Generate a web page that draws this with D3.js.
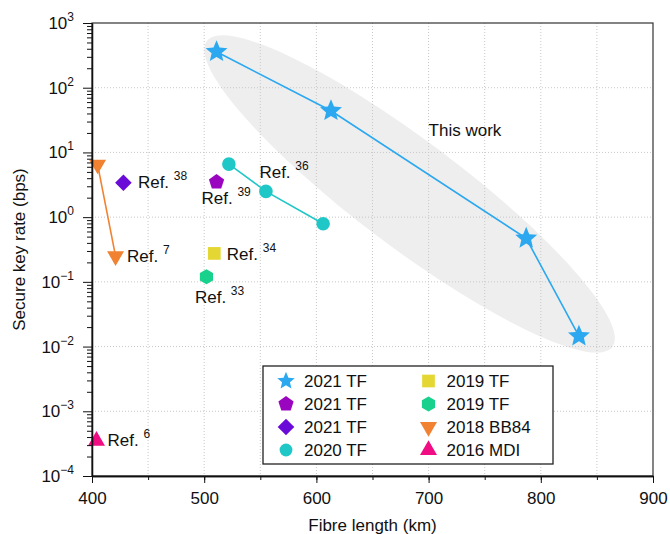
<!DOCTYPE html>
<html>
<head>
<meta charset="utf-8">
<script src="https://cdn.jsdelivr.net/npm/d3@7"></script>
<style>
  body { margin: 0; background: #fff; }
  svg { display: block; font-family: 'Liberation Sans', Arial, Helvetica, sans-serif; }
</style>
</head>
<body>
<div id="chart"></div>
<script>
// -------------------------------------------------------------------------
// Data

const xTicks = [400, 500, 600, 700, 800, 900];
const yTickExponents = [-4, -3, -2, -1, 0, 1, 2, 3];

const seriesNames = ['2021 TF', '2021 TF', '2021 TF', '2020 TF', '2019 TF', '2019 TF', '2018 BB84', '2016 MDI'];
const refNumbers = [null, '39', '38', '36', '34', '33', '7', '6'];

const thisWorkKm = [511, 613, 787, 834];
const thisWorkRate = [360, 44, 0.47, 0.0145];
const ref39Km = [511];
const ref39Rate = [3.5];
const ref38Km = [428];
const ref38Rate = [3.4];
const ref36Km = [522, 555, 606];
const ref36Rate = [6.6, 2.5, 0.79];
const ref34Km = [509];
const ref34Rate = [0.275];
const ref33Km = [502];
const ref33Rate = [0.12];
const ref7Km = [405, 421];
const ref7Rate = [6.5, 0.25];
const ref6Km = [404];
const ref6Rate = [0.00035];

// shaded "This work" region and its label, in data units
const regionCentre = [683, 2.28];
const thisWorkLabelAt = [700, 17.7];

// -------------------------------------------------------------------------
// Styles

const kms = [thisWorkKm, ref39Km, ref38Km, ref36Km, ref34Km, ref33Km, ref7Km, ref6Km];
const rates = [thisWorkRate, ref39Rate, ref38Rate, ref36Rate, ref34Rate, ref33Rate, ref7Rate, ref6Rate];
const shapes = ['star', 'pentagon', 'diamond', 'circle', 'square', 'hexagon', 'triDown', 'triUp'];
const colors = ['#2ba8f0', '#9a06c0', '#6a0bd8', '#1fc7c7', '#e5d733', '#17d18c', '#f08232', '#f00c82'];
const joined = [true, false, false, true, false, false, true, false];
// label offset from the anchor point (px), and which point carries the label
const labelOffsets = [null, [-15, 22], [14.5, 5.5], [-6.5, -13], [12.5, 6.5], [-11.5, 26], [11.5, 5.5], [11, 5.5]];
const labelAnchor = [0, 0, 0, 1, 0, 0, 1, 0];

const series = seriesNames.map((name, i) => ({
  name: name,
  ref: refNumbers[i],
  points: kms[i].map((km, j) => ({ km: km, rate: rates[i][j] })),
  shape: shapes[i],
  color: colors[i],
  joined: joined[i],
  offset: labelOffsets[i],
  anchor: labelAnchor[i]
}));

// -------------------------------------------------------------------------
// Layout

const width = 670;
const height = 534;
const margin = { left: 92, right: 17, top: 23, bottom: 58 };
const fontSize = 17;
const supSize = 12;

let svg = d3.select('#chart')
  .append('svg')
  .attr('width', width)
  .attr('height', height);

let x = d3.scaleLinear()
  .domain([400, 900])
  .range([margin.left, width - margin.right]);

let y = d3.scaleLog()
  .domain([1e-4, 1e3])
  .range([height - margin.bottom, margin.top]);

// marker outline, centred on 0,0
function shapePath(type, r) {
  let poly = function(n, start, radii) {
    let pts = [];
    for (let i = 0; i < n; i++) {
      let a = (start + i * 360 / n) * Math.PI / 180;
      let rr = radii ? radii[i % radii.length] : r;
      pts.push([rr * Math.cos(a), rr * Math.sin(a)]);
    }
    return 'M' + pts.map(p => p[0].toFixed(2) + ',' + p[1].toFixed(2)).join('L') + 'Z';
  };
  switch (type) {
    case 'star': return poly(10, -90, [r, r * 0.45]);
    case 'pentagon': return poly(5, -90);
    case 'hexagon': return poly(6, -90);
    case 'diamond': return poly(4, -90);
    case 'square': return poly(4, 45);
    case 'triDown': return poly(3, 90);
    case 'triUp': return poly(3, -90);
    default: return d3.symbol(d3.symbolCircle, Math.PI * r * r)();
  }
}

const markerRadius = { star: 11.5, pentagon: 8, diamond: 8.3, circle: 6.8, square: 9, hexagon: 7.6, triDown: 9.8, triUp: 9.8 };
const legendRadius = Object.assign({}, markerRadius, { star: 9.2, circle: 6.4 });

// -------------------------------------------------------------------------
// Shaded region

svg.append('ellipse')
  .attr('transform', `translate(${x(regionCentre[0])},${y(regionCentre[1])}) rotate(37)`)
  .attr('rx', 254)
  .attr('ry', 53)
  .attr('fill', '#eeeeee');

// -------------------------------------------------------------------------
// Grid

let gridX = d3.range(450, 900, 50);
svg.append('g')
  .selectAll('line')
  .data(gridX)
  .enter()
  .append('line')
  .attr('x1', d => x(d)).attr('x2', d => x(d))
  .attr('y1', margin.top).attr('y2', height - margin.bottom)
  .attr('stroke', '#c8c8c8')
  .attr('stroke-dasharray', '1,2');

svg.append('g')
  .selectAll('line')
  .data(yTickExponents.slice(1, -1))
  .enter()
  .append('line')
  .attr('x1', margin.left).attr('x2', width - margin.right)
  .attr('y1', d => y(Math.pow(10, d))).attr('y2', d => y(Math.pow(10, d)))
  .attr('stroke', '#c8c8c8')
  .attr('stroke-dasharray', '1,2');

// -------------------------------------------------------------------------
// Series

let line = d3.line()
  .x(d => x(d.km))
  .y(d => y(d.rate));

svg.append('g')
  .selectAll('path')
  .data(series.filter(s => s.joined))
  .enter()
  .append('path')
  .attr('d', s => line(s.points))
  .attr('fill', 'none')
  .attr('stroke', s => s.color)
  .attr('stroke-width', 1.6);

series.forEach(s => {
  svg.append('g')
    .selectAll('path')
    .data(s.points)
    .enter()
    .append('path')
    .attr('transform', d => `translate(${x(d.km)},${y(d.rate)})`)
    .attr('d', shapePath(s.shape, markerRadius[s.shape]))
    .attr('fill', s.color);
});

// reference labels
series.filter(s => s.ref).forEach(s => {
  let p = s.points[s.anchor];
  let t = svg.append('text')
    .attr('x', x(p.km) + s.offset[0])
    .attr('y', y(p.rate) + s.offset[1])
    .attr('font-size', fontSize)
    .attr('fill', '#111');
  t.append('tspan').text('Ref.\u00a0');
  t.append('tspan')
    .attr('dy', -8)
    .attr('font-size', supSize)
    .text(s.ref);
});

svg.append('text')
  .attr('x', x(thisWorkLabelAt[0]))
  .attr('y', y(thisWorkLabelAt[1]))
  .attr('font-size', fontSize)
  .attr('fill', '#111')
  .text('This work');

// -------------------------------------------------------------------------
// Axes

svg.append('rect')
  .attr('x', margin.left)
  .attr('y', margin.top)
  .attr('width', width - margin.right - margin.left)
  .attr('height', height - margin.bottom - margin.top)
  .attr('fill', 'none')
  .attr('stroke', '#333')
  .attr('stroke-width', 1.2);

let minorY = [];
yTickExponents.slice(0, -1).forEach(e => {
  for (let m = 2; m < 10; m++) minorY.push(m * Math.pow(10, e));
});

let yAxis = svg.append('g')
  .attr('transform', `translate(${margin.left},0)`)
  .call(d3.axisLeft(y)
    .tickValues(yTickExponents.map(e => Math.pow(10, e)))
    .tickSize(9)
    .tickSizeOuter(0)
    .tickPadding(9)
    .tickFormat(''));
yAxis.selectAll('.tick text').each(function(d) {
  let t = d3.select(this);
  let e = Math.round(Math.log10(d));
  t.append('tspan').text('10');
  t.append('tspan')
    .attr('dy', -8)
    .attr('font-size', supSize)
    .text(String(e).replace('-', '\u2212'));
});

svg.append('g')
  .attr('transform', `translate(${margin.left},0)`)
  .call(d3.axisLeft(y)
    .tickValues(minorY)
    .tickSize(5)
    .tickSizeOuter(0)
    .tickFormat(''));

let xAxis = svg.append('g')
  .attr('transform', `translate(0,${height - margin.bottom})`)
  .call(d3.axisBottom(x)
    .tickValues(xTicks)
    .tickSize(7)
    .tickSizeOuter(0)
    .tickPadding(9)
    .tickFormat(d3.format('d')));

svg.append('g')
  .attr('transform', `translate(0,${height - margin.bottom})`)
  .call(d3.axisBottom(x)
    .tickValues(gridX)
    .tickSize(4)
    .tickSizeOuter(0)
    .tickFormat(''));

svg.selectAll('.domain').attr('stroke', '#111').attr('stroke-width', 1.3);
svg.selectAll('.tick line').attr('stroke', '#111');
svg.selectAll('.tick text')
  .attr('font-size', fontSize)
  .attr('font-family', "'Liberation Sans', Arial, sans-serif")
  .attr('fill', '#111');

svg.append('text')
  .attr('x', (margin.left + width - margin.right) / 2)
  .attr('y', 531)
  .attr('text-anchor', 'middle')
  .attr('font-size', fontSize)
  .attr('fill', '#111')
  .text('Fibre length (km)');

svg.append('text')
  .attr('transform', `translate(25,${(margin.top + height - margin.bottom) / 2}) rotate(-90)`)
  .attr('text-anchor', 'middle')
  .attr('font-size', fontSize)
  .attr('fill', '#111')
  .text('Secure key rate (bps)');

// -------------------------------------------------------------------------
// Legend

let legend = svg.append('g')
  .attr('transform', 'translate(263,366)');

legend.append('rect')
  .attr('width', 290)
  .attr('height', 98)
  .attr('fill', '#fff')
  .attr('stroke', '#222')
  .attr('stroke-width', 1.3);

let items = legend.selectAll('g.item')
  .data(series)
  .enter()
  .append('g')
  .attr('class', 'item')
  .attr('transform', (d, i) => `translate(${i < 4 ? 23 : 165.5},${15 + (i % 4) * 23})`);

items.append('path')
  .attr('d', d => shapePath(d.shape, legendRadius[d.shape]))
  .attr('fill', d => d.color);

items.append('text')
  .attr('x', 18)
  .attr('y', 6)
  .attr('font-size', fontSize)
  .attr('fill', '#111')
  .text(d => d.name);
</script>
</body>
</html>
